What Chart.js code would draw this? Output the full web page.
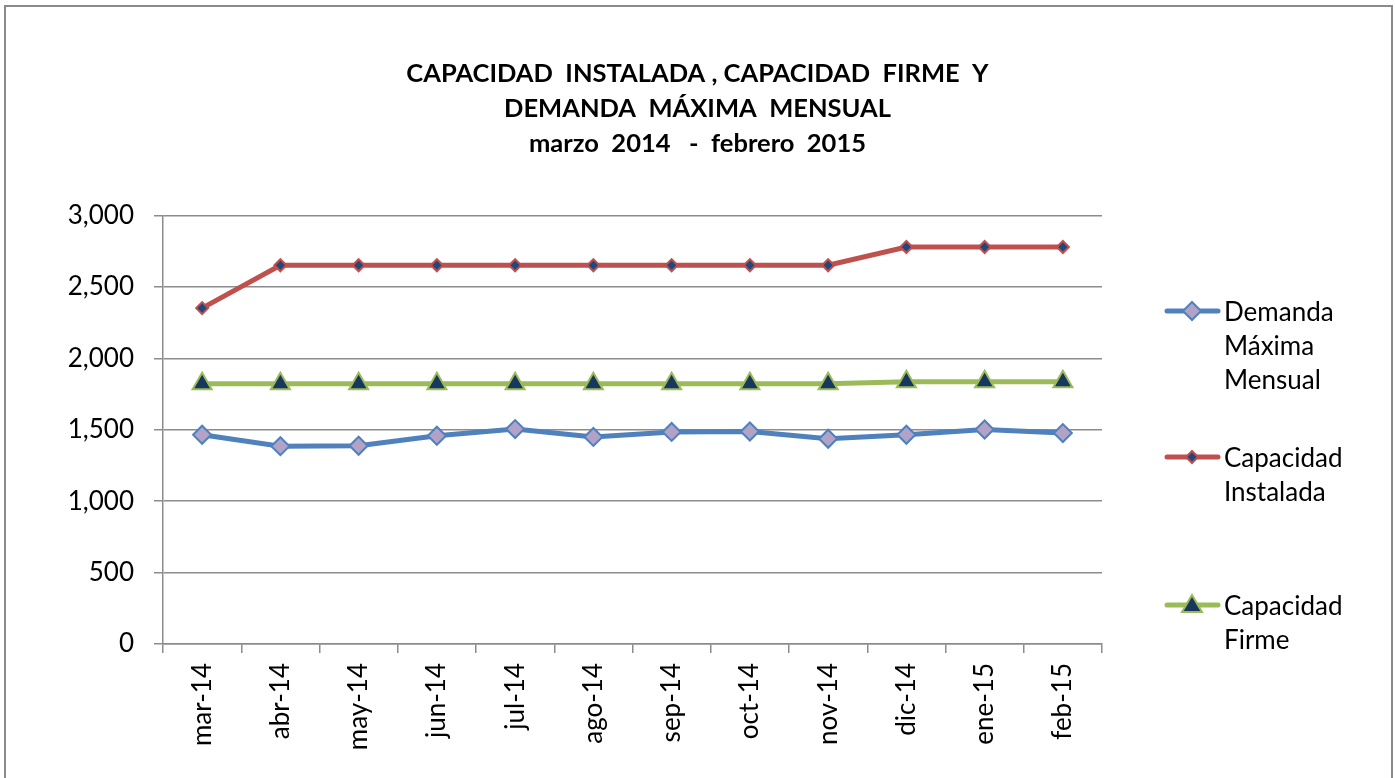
<!DOCTYPE html>
<html>
<head>
    <title>Capacidad Instalada, Capacidad Firme y Demanda Máxima Mensual</title>
    <script src="https://cdn.jsdelivr.net/npm/chart.js@4.4.0/dist/chart.umd.min.js"></script>
    <style>
        html, body {
            margin: 0;
            padding: 0;
            background: #fff;
            overflow: hidden;
            font-family: Lato, sans-serif;
        }
        .frame {
            position: absolute;
            left: 4px;
            top: 5px;
            width: 1385px;
            height: 900px;
            border: 2px solid #8a8a8a;
        }
        .chart-box {
            position: absolute;
            left: 0;
            top: 0;
            width: 1395px;
            height: 778px;
        }
        #legend {
            position: absolute;
            left: 1163px;
            top: 0;
        }
        .legend-item {
            position: absolute;
            left: 0;
            display: flex;
            align-items: flex-start;
            white-space: nowrap;
        }
        .legend-item svg { flex: none; }
        .legend-text {
            font-size: 26px;
            line-height: 34px;
            color: #000;
            margin-left: 1px;
        }
    </style>
</head>
<body>
    <div class="frame"></div>
    <div class="chart-box"><canvas id="capacidadChart"></canvas></div>
    <div id="legend"></div>

    <script>
        // Data (MW)
        const months = ['mar-14', 'abr-14', 'may-14', 'jun-14', 'jul-14', 'ago-14',
                        'sep-14', 'oct-14', 'nov-14', 'dic-14', 'ene-15', 'feb-15'];
        const demandaMaxima      = [1465, 1385, 1388, 1458, 1505, 1450, 1485, 1488, 1437, 1465, 1502, 1477];
        const capacidadInstalada = [2352, 2652, 2652, 2652, 2652, 2652, 2652, 2652, 2652, 2780, 2780, 2780];
        const capacidadFirme     = [1822, 1822, 1822, 1822, 1822, 1822, 1822, 1822, 1822, 1837, 1837, 1837];
        const seriesNames = ['Demanda Máxima Mensual', 'Capacidad Instalada', 'Capacidad Firme'];
        const legendLines = [['Demanda', 'Máxima', 'Mensual'], ['Capacidad', 'Instalada'], ['Capacidad', 'Firme']];
        const titleLines = ['CAPACIDAD  INSTALADA , CAPACIDAD  FIRME  Y',
                            'DEMANDA  MÁXIMA  MENSUAL',
                            'marzo  2014   -  febrero  2015'];

        const gridGray = '#8c8c8c';
        const font = 'Lato, sans-serif';

        const styles = [
            { line: '#4F81BD', fill: '#B3A2C7', shape: 'rectRot', r: 9 },
            { line: '#C0504D', fill: '#1F497D', shape: 'rectRot', r: 6 },
            { line: '#9BBB59', fill: '#17375E', shape: 'triangle', r: 11 }
        ];

        const seriesData = [demandaMaxima, capacidadInstalada, capacidadFirme];

        const chart = new Chart(document.getElementById('capacidadChart'), {
            type: 'line',
            data: {
                labels: months,
                datasets: seriesNames.map((name, i) => ({
                    label: name,
                    data: seriesData[i],
                    borderColor: styles[i].line,
                    backgroundColor: styles[i].fill,
                    borderWidth: 5,
                    pointStyle: styles[i].shape,
                    pointRadius: styles[i].r,
                    pointBackgroundColor: styles[i].fill,
                    pointBorderColor: styles[i].line,
                    pointBorderWidth: 2,
                    tension: 0,
                    fill: false
                }))
            },
            options: {
                responsive: true,
                maintainAspectRatio: false,
                animation: false,
                layout: { padding: 0 },
                plugins: {
                    legend: { display: false },
                    tooltip: { enabled: false },
                    title: {
                        display: true,
                        text: titleLines,
                        color: '#000',
                        font: { family: font, size: 25.5, weight: 'bold', lineHeight: 1.38 },
                        padding: { top: 56, bottom: 54 }
                    }
                },
                scales: {
                    x: {
                        offset: true,
                        grid: {
                            offset: true,
                            drawOnChartArea: false,
                            drawTicks: true,
                            tickLength: 9,
                            color: gridGray,
                            lineWidth: 1.5
                        },
                        border: { color: gridGray, width: 1.5 },
                        ticks: {
                            color: '#000',
                            font: { family: font, size: 26 },
                            minRotation: 90,
                            maxRotation: 90,
                            padding: 10,
                            autoSkip: false
                        },
                        afterFit: (scale) => { scale.height = 134; }
                    },
                    y: {
                        min: 0,
                        max: 3000,
                        grid: {
                            color: gridGray,
                            lineWidth: 1.5,
                            tickLength: 9
                        },
                        border: { color: gridGray, width: 1.5 },
                        ticks: {
                            stepSize: 500,
                            color: '#000',
                            font: { family: font, size: 26 },
                            padding: 20,
                            callback: (v) => v.toLocaleString('en-US')
                        },
                        afterFit: (scale) => { scale.width = 163; }
                    },
                    // empty right-hand axis that only reserves room for the legend
                    legendSpace: {
                        position: 'right',
                        grid: { display: false },
                        border: { display: false },
                        ticks: { display: false },
                        afterFit: (scale) => { scale.width = 293; }
                    }
                }
            }
        });

        // Legend on the right, labels broken over several lines like the original
        const legendTops = [294, 440, 588];
        const legend = document.getElementById('legend');
        legendLines.forEach((lines, i) => {
            const st = styles[i];
            const item = document.createElement('div');
            item.className = 'legend-item';
            item.style.top = legendTops[i] + 'px';
            let marker;
            if (st.shape === 'triangle') {
                marker = '<polygon points="29,7 39,24 19,24" fill="' + st.fill + '" stroke="' + st.line + '" stroke-width="2"/>';
            } else {
                const r = st.r;
                marker = '<polygon points="29,' + (17 - r) + ' ' + (29 + r) + ',17 29,' + (17 + r) + ' ' + (29 - r) + ',17" fill="' + st.fill + '" stroke="' + st.line + '" stroke-width="2"/>';
            }
            item.innerHTML =
                '<svg width="60" height="34" viewBox="0 0 60 34">' +
                '<line x1="4" y1="17" x2="55" y2="17" stroke="' + st.line + '" stroke-width="5" stroke-linecap="round"/>' +
                marker + '</svg>' +
                '<div class="legend-text">' + lines.join('<br>') + '</div>';
            legend.appendChild(item);
        });
    </script>
</body>
</html>
